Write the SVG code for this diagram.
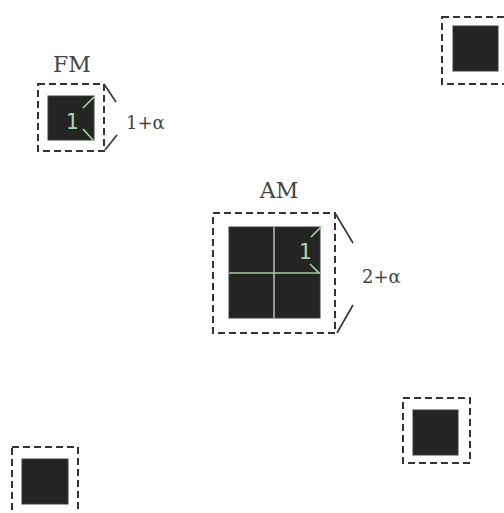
<svg xmlns="http://www.w3.org/2000/svg" width="504" height="513" viewBox="0 0 504 513">
  <style>
    .frame { fill: none; stroke: #333; stroke-width: 2; stroke-dasharray: 7 4; }
    .block { fill: #242424; stroke: #3a3a3a; stroke-width: 1; }
    .grid { stroke: #a9c9a4; stroke-width: 1.5; }
    .tick { stroke: #a9d6a2; stroke-width: 1.6; }
    .brace { stroke: #333; stroke-width: 1.6; fill: none; }
    .name { font-family: "DejaVu Serif", "Liberation Serif", serif; font-size: 22px; fill: #444; }
    .size { font-family: "DejaVu Serif", "Liberation Serif", serif; font-size: 18px; fill: #444; }
    .unit { font-family: "DejaVu Sans Mono", "Liberation Mono", monospace; font-size: 21px; fill: #a9d6a2; }
  </style>

  <rect width="504" height="513" fill="#fff"/>

  <!-- FM block -->
  <g id="fm">
    <text class="name" x="72" y="72" text-anchor="middle">FM</text>
    <rect class="frame" x="38" y="84" width="66" height="67"/>
    <rect class="block" x="48" y="96" width="46" height="44"/>
    <text class="unit" x="72" y="129" text-anchor="middle">1</text>
    <line class="tick" x1="94" y1="97" x2="83" y2="108"/>
    <line class="tick" x1="83" y1="129" x2="93" y2="140"/>
    <polyline class="brace" points="104,84 116,102"/>
    <polyline class="brace" points="117,135 105,150"/>
    <text class="size" x="126" y="129">1+α</text>
  </g>

  <!-- AM block -->
  <g id="am">
    <text class="name" x="279" y="198" text-anchor="middle">AM</text>
    <rect class="frame" x="213" y="213" width="122" height="120"/>
    <rect class="block" x="229" y="227" width="91" height="91"/>
    <line class="grid" x1="274" y1="227" x2="274" y2="318"/>
    <line class="grid" x1="229" y1="273" x2="320" y2="273"/>
    <text class="unit" x="305" y="259" text-anchor="middle">1</text>
    <line class="tick" x1="322" y1="226" x2="311" y2="237"/>
    <line class="tick" x1="310" y1="264" x2="319" y2="273"/>
    <polyline class="brace" points="335,213 353,243"/>
    <polyline class="brace" points="353,305 337,333"/>
    <text class="size" x="362" y="283">2+α</text>
  </g>

  <!-- corner blocks -->
  <g id="top-right">
    <rect class="frame" x="442" y="17" width="66" height="67"/>
    <rect class="block" x="453" y="26" width="45" height="45"/>
  </g>

  <g id="bottom-right">
    <rect class="frame" x="403" y="398" width="67" height="65"/>
    <rect class="block" x="413" y="410" width="45" height="45"/>
  </g>

  <g id="bottom-left">
    <rect class="frame" x="12" y="447" width="66" height="70"/>
    <rect class="block" x="22" y="459" width="46" height="45"/>
  </g>

  <g id="connectors"></g>
</svg>
